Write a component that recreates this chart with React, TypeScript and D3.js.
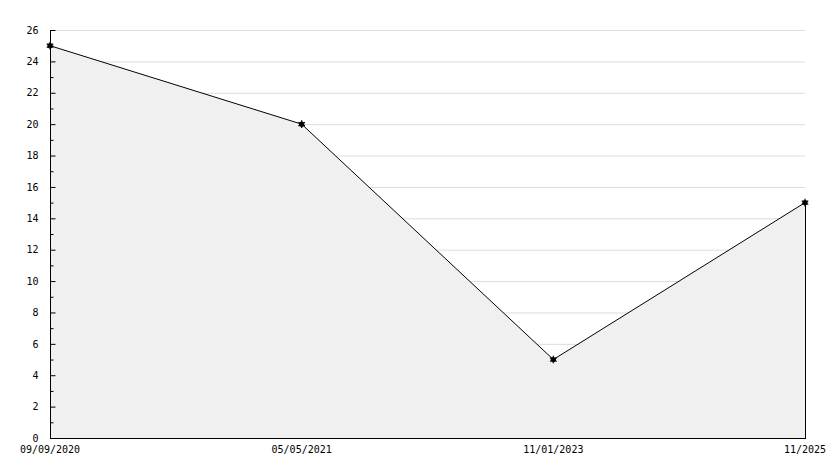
import React, { useEffect, useRef } from "react";
import { area, axisLeft, line, range, scaleLinear, scalePoint, select, symbol, symbolAsterisk } from "d3";

const WIDTH = 834;
const HEIGHT = 468;
const LEFT = 50;
const RIGHT = 805;
const TOP = 30;
const BOTTOM = 438;
const FONT = "'DejaVu Sans Mono', monospace";

const dates = ["09/09/2020", "05/05/2021", "11/01/2023", "11/2025"];
const values = [25, 20, 5, 15];
const yTicks = range(0, 27, 2);
const yMinorTicks = range(1, 26, 2);

const App = () => {
    const svgRef = useRef<SVGSVGElement>(null);

    useEffect(() => {
        const svg = select(svgRef.current);
        svg.selectAll("*").remove();

        const x = scalePoint<string>().domain(dates).range([LEFT, RIGHT]);
        const y = scaleLinear().domain([0, 26]).range([BOTTOM, TOP]);
        const points = dates.map((d, i) => ({ d, v: values[i] }));

        // grid, hidden under the area
        svg.append("g")
            .selectAll("line")
            .data(yTicks.filter(t => t > 0))
            .enter()
            .append("line")
            .attr("x1", LEFT)
            .attr("x2", RIGHT)
            .attr("y1", t => y(t) + 0.5)
            .attr("y2", t => y(t) + 0.5)
            .attr("stroke", "#dddddd");

        // filled area
        const areaFn = area<{ d: string; v: number }>()
            .x(p => x(p.d)!)
            .y0(BOTTOM)
            .y1(p => y(p.v));
        svg.append("path").attr("d", areaFn(points)).attr("fill", "#f0f0f0");

        // right edge of area
        svg.append("line")
            .attr("x1", RIGHT + 0.5)
            .attr("x2", RIGHT + 0.5)
            .attr("y1", y(values[values.length - 1]))
            .attr("y2", BOTTOM)
            .attr("stroke", "#000");

        const lineFn = line<{ d: string; v: number }>()
            .x(p => x(p.d)!)
            .y(p => y(p.v));
        svg.append("path")
            .attr("d", lineFn(points))
            .attr("fill", "none")
            .attr("stroke", "#000")
            .attr("stroke-width", 1);

        // markers: small filled asterisk blobs
        const marks = svg
            .append("g")
            .selectAll("g")
            .data(points)
            .enter()
            .append("g")
            .attr("transform", p => `translate(${x(p.d)},${y(p.v)})`);
        marks.append("circle").attr("r", 2.6).attr("fill", "#000");
        marks
            .append("path")
            .attr("d", symbol().type(symbolAsterisk).size(40)())
            .attr("fill", "none")
            .attr("stroke", "#000")
            .attr("stroke-width", 1.2);

        // y axis, ticks pointing inward
        const yAxis = axisLeft(y).tickValues(yTicks).tickSize(-5).tickPadding(12);
        const yg = svg.append("g").attr("transform", `translate(${LEFT + 0.5},0)`).call(yAxis);
        yg.select(".domain").attr("d", `M0,${TOP}V${BOTTOM}`).attr("stroke", "#000");
        yg.selectAll("line").attr("stroke", "#000");
        yg.selectAll("text")
            .attr("font-family", FONT)
            .attr("font-size", 10)
            .attr("fill", "#000");
        yg.append("g")
            .selectAll("line")
            .data(yMinorTicks)
            .enter()
            .append("line")
            .attr("x1", 0)
            .attr("x2", 3)
            .attr("y1", t => y(t) + 0.5)
            .attr("y2", t => y(t) + 0.5)
            .attr("stroke", "#000");

        // x axis
        svg.append("line")
            .attr("x1", LEFT)
            .attr("x2", RIGHT + 1)
            .attr("y1", BOTTOM + 0.5)
            .attr("y2", BOTTOM + 0.5)
            .attr("stroke", "#000");
        svg.append("g")
            .selectAll("text")
            .data(dates)
            .enter()
            .append("text")
            .attr("x", d => x(d)!)
            .attr("y", BOTTOM + 15)
            .attr("text-anchor", "middle")
            .attr("font-family", FONT)
            .attr("font-size", 10)
            .attr("fill", "#000")
            .text(d => d);
    }, []);

    return (
        <div style={{ position: "absolute", left: 0, top: 0, background: "#fff" }}>
            <svg ref={svgRef} width={WIDTH} height={HEIGHT} style={{ display: "block" }} />
        </div>
    );
};

export default App;
